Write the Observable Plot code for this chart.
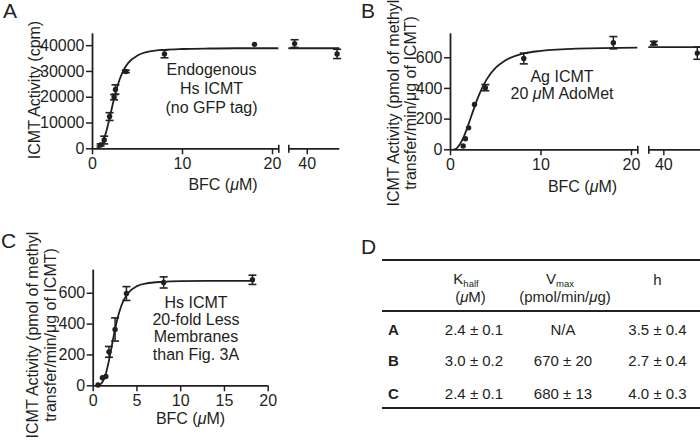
<!DOCTYPE html>
<html><head><meta charset="utf-8">
<script src="https://cdn.jsdelivr.net/npm/d3@7"></script>
<script src="https://cdn.jsdelivr.net/npm/@observablehq/plot@0.6"></script>
<style>
body{margin:0;background:#fff;}
#fig{position:relative;width:700px;height:444px;overflow:hidden;background:#fff;font-family:"Liberation Sans",Arial,Helvetica,sans-serif;color:#231f20;}
.t{position:absolute;white-space:nowrap;font-size:16px;line-height:18px;text-align:center;transform:translate(-50%,-50%);}
.tb{position:absolute;white-space:nowrap;font-size:15px;line-height:17px;text-align:center;transform:translate(-50%,-50%);}
.l{position:absolute;white-space:nowrap;font-size:15px;line-height:17px;transform:translate(0,-50%);font-weight:bold;}
.lbl{position:absolute;font-size:21px;line-height:21px;}
.rule{position:absolute;height:2px;background:#231f20;}
.sub{font-size:9.5px;line-height:0;vertical-align:-3px;}
</style></head><body><div id="fig"></div>
<script>
// ---------- data ----------
// Panel A: endogenous Hs ICMT (cpm)
const bfcA = [0.9, 1.3, 1.9, 2.4, 2.55, 3.7, 8.0, 18.0, 38.6, 43.3];
const activityA = [1500, 3400, 12500, 20000, 23000, 30000, 36800, 40500, 40800, 36800];
const errorA = [400, 1500, 1500, 1000, 1800, 500, 1500, 0, 1500, 1800];
const fitBfcA = [0.5, 0.8, 1.0, 1.25, 1.5, 1.75, 2.0, 2.25, 2.5, 2.75, 3.0, 3.5, 4.0, 5.0, 6.0, 7.0, 8.0, 10, 13, 16, 20.7, 37.9, 43.7];
const fitActivityA = [150, 800, 1700, 3600, 6300, 9700, 13500, 17300, 20800, 24000, 26800, 30800, 33400, 36200, 37500, 38100, 38400, 38700, 38900, 39000, 39000, 39000, 39000];

// Panel B: Ag ICMT, 20 uM AdoMet
const bfcB = [1.4, 1.65, 2.0, 2.65, 3.85, 8.1, 18.0, 38.9, 43.7];
const activityB = [25, 72, 143, 295, 405, 595, 698, 695, 630];
const errorB = [0, 0, 0, 0, 20, 35, 40, 12, 40];
const fitBfcB = [0.3, 0.6, 1.0, 1.5, 2.0, 2.5, 3.0, 3.5, 4.0, 5.0, 6.0, 8.0, 10, 14, 20.7, 38.3, 44.1];
const fitActivityB = [1, 6, 33, 89, 168, 254, 335, 404, 459, 535, 581, 626, 645, 660, 666, 669, 669];

// Panel C: Hs ICMT, 20-fold less membranes
const bfcC = [0.55, 1.05, 1.45, 1.8, 2.5, 3.8, 8.05, 18.2];
const activityC = [5, 52, 60, 220, 365, 598, 670, 687];
const errorC = [0, 0, 0, 35, 75, 45, 36, 30];
const fitBfcC = [0.3, 0.75, 1.0, 1.25, 1.5, 1.75, 2.0, 2.25, 2.5, 2.75, 3.0, 3.5, 4.0, 5.0, 6.0, 8.0, 10, 14, 18.2];
const fitActivityC = [0, 7, 20, 47, 90, 150, 221, 296, 368, 430, 482, 557, 602, 646, 663, 674, 678, 680, 680];

// tick labels
const ticksXLeft = [0, 10, 20];
const ticksXRight = [40];
const ticksXC = [0, 5, 10, 15, 20];
const ticksYA = [0, 10000, 20000, 30000, 40000];
const ticksYBC = [0, 200, 400, 600];

// Panel D table
const tableRows = ["A", "B", "C"];
const kHalfValues = ["2.4 ± 0.1", "3.0 ± 0.2", "2.4 ± 0.1"];
const vMaxValues = ["N/A", "670 ± 20", "680 ± 13"];
const hillValues = ["3.5 ± 0.4", "2.7 ± 0.4", "4.0 ± 0.3"];

// ---------- drawing ----------
const ink = "#231f20";
const fig = document.getElementById("fig");
const hline = {draw(ctx, size){const r = Math.sqrt(size / Math.PI); ctx.moveTo(-r, 0); ctx.lineTo(r, 0);}};
const vline = {draw(ctx, size){const r = Math.sqrt(size / Math.PI); ctx.moveTo(0, -r); ctx.lineTo(0, r);}};
const zip = (xs, ys, es) => xs.map((x, i) => ({x, y: ys[i], e: es ? es[i] : 0}));
const BREAK = 30; // axis break between the 0–20 and the 40 segment

function segment({side, frame: [x0, x1, y0, y1], xDomain, yDomain, xTicks, yTicks, points, fit, caps}) {
  const onSide = d => side === "left" ? d.x < BREAK : d.x >= BREAK;
  const pts = points.filter(onSide);
  const bars = pts.filter(d => d.e > 0);
  const marks = [
    Plot.ruleY([0], {stroke: ink, strokeWidth: 1.8}),
    Plot.axisX({ticks: xTicks, tickSize: 6, tickPadding: 3, tickFormat: "d", label: null, stroke: ink, strokeWidth: 1.5}),
    Plot.line(fit.filter(onSide), {x: "x", y: "y", curve: "monotone-x", stroke: ink, strokeWidth: 1.8, clip: true}),
    Plot.ruleX(bars, {x: "x", y1: d => d.y - d.e, y2: d => d.y + d.e, stroke: ink, strokeWidth: 1.5}),
    Plot.dot(bars, {x: "x", y: d => d.y + d.e, symbol: hline, r: 4, fill: "none", stroke: ink, strokeWidth: 1.6}),
    Plot.dot(bars, {x: "x", y: d => d.y - d.e, symbol: hline, r: 4, fill: "none", stroke: ink, strokeWidth: 1.6}),
    Plot.dot(pts, {x: "x", y: "y", r: 2.7, fill: ink, stroke: "none"}),
    Plot.dot(caps.map(c => ({x: xDomain[c], y: 0})), {x: "x", y: "y", symbol: vline, r: 4, fill: "none", stroke: ink, strokeWidth: 1.6})
  ];
  if (yTicks) {
    marks.push(Plot.ruleX([xDomain[0]], {stroke: ink, strokeWidth: 1.8}));
    marks.push(Plot.axisY({ticks: yTicks, tickSize: 6, tickPadding: 2, tickFormat: "d", label: null, stroke: ink, strokeWidth: 1.5}));
  }
  const svg = Plot.plot({
    width: 700, height: 444,
    marginLeft: x0, marginRight: 700 - x1, marginTop: y0, marginBottom: 444 - y1,
    x: {domain: xDomain},
    y: {domain: yDomain, axis: yTicks ? undefined : null},
    style: {position: "absolute", left: "0px", top: "0px", background: "transparent", overflow: "visible",
            fontSize: "16px", fontFamily: '"Liberation Sans", Arial, sans-serif', color: ink, maxWidth: "none"},
    marks
  });
  fig.appendChild(svg);
}

const ptsA = zip(bfcA, activityA, errorA), fitA = zip(fitBfcA, fitActivityA);
const ptsB = zip(bfcB, activityB, errorB), fitB = zip(fitBfcB, fitActivityB);
const ptsC = zip(bfcC, activityC, errorC), fitC = zip(fitBfcC, fitActivityC);

segment({side: "left", frame: [92, 278.3, 33.3, 148.3], xDomain: [0, 20.7], yDomain: [0, 44600], xTicks: ticksXLeft, yTicks: ticksYA, points: ptsA, fit: fitA, caps: [1]});
segment({side: "right", frame: [288.3, 339.3, 33.3, 148.3], xDomain: [37.96, 43.6], yDomain: [0, 44600], xTicks: ticksXRight, points: ptsA, fit: fitA, caps: [0]});
segment({side: "left", frame: [450, 637.3, 33.3, 149.3], xDomain: [0, 20.7], yDomain: [0, 756], xTicks: ticksXLeft, yTicks: ticksYBC, points: ptsB, fit: fitB, caps: [1]});
segment({side: "right", frame: [648.3, 700, 33.3, 149.3], xDomain: [38.34, 44.05], yDomain: [0, 756], xTicks: ticksXRight, points: ptsB, fit: fitB, caps: [0]});
segment({side: "left", frame: [92.7, 267.7, 269.6, 385.3], xDomain: [0, 20], yDomain: [0, 750], xTicks: ticksXC, yTicks: ticksYBC, points: ptsC, fit: fitC, caps: []});

// ---------- text ----------
function txt(html, x, y, cls = "t", style = "") {
  const d = document.createElement("div");
  d.className = cls;
  d.innerHTML = html;
  d.style.cssText = `left:${x}px;top:${y}px;` + style;
  fig.appendChild(d);
  return d;
}
const rot = "transform:translate(-50%,-50%) rotate(-90deg);";

// panel letters
txt("A", 3, 0, "lbl");
txt("B", 361, 0, "lbl");
txt("C", 1, 230, "lbl");
txt("D", 361, 236, "lbl");

// axis titles
txt("ICMT Activity (cpm)", 35, 90, "t", rot);
txt("BFC (<i>μ</i>M)", 223, 185);
txt("ICMT Activity (pmol of methyl<br>transfer/min/μg of ICMT)", 403.3, 103, "t", rot + "line-height:16.7px;");
txt("BFC (<i>μ</i>M)", 582.5, 186.5);
txt("ICMT Activity (pmol of methyl<br>transfer/min/μg of ICMT)", 41, 335, "t", rot + "line-height:17.5px;");
txt("BFC (<i>μ</i>M)", 190.5, 418.7);

// annotations
txt("Endogenous<br>Hs ICMT<br>(no GFP tag)", 211.5, 88, "t", "line-height:19px;");
txt("Ag ICMT<br>20 <i>μ</i>M AdoMet", 562, 86, "t", "line-height:16.7px;");
txt("Hs ICMT<br>20-fold Less<br>Membranes<br>than Fig. 3A", 196, 328, "t", "line-height:17.2px;");

// ---------- table D ----------
const rule = (y) => { const r = document.createElement("div"); r.className = "rule"; r.style.cssText = `left:381.7px;top:${y}px;width:318.3px;`; fig.appendChild(r); };
rule(258.7); rule(310); rule(406.7);
txt('K<span class="sub">half</span>', 466, 278, "tb");
txt("(<i>μ</i>M)", 470.5, 295.5, "tb");
txt('V<span class="sub">max</span>', 560, 278, "tb");
txt("(pmol/min/<i>μ</i>g)", 565, 295.5, "tb");
txt("h", 657.5, 279, "tb");
const rowY = [328.7, 360.3, 393];
tableRows.forEach((r, i) => {
  txt(r, 388, rowY[i], "l");
  txt(kHalfValues[i], 474, rowY[i], "tb");
  txt(vMaxValues[i], 563, rowY[i], "tb");
  txt(hillValues[i], 657.5, rowY[i], "tb");
});
</script></body></html>
